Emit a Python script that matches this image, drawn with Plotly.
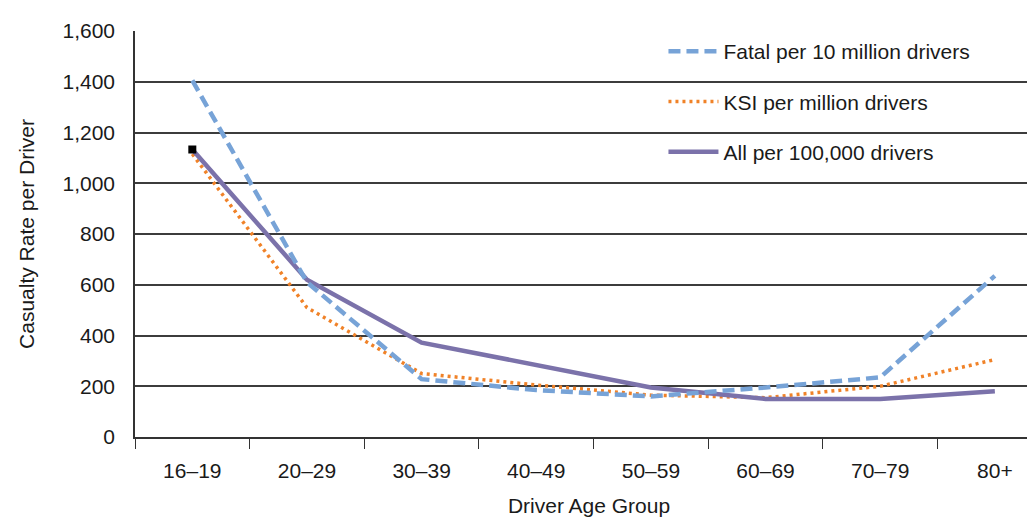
import plotly.graph_objects as go

# Driver age groups and casualty rates
age_groups = ["16–19", "20–29", "30–39", "40–49", "50–59", "60–69", "70–79", "80+"]
fatal_per_10m = [1405, 610, 228, 185, 160, 195, 235, 635]
ksi_per_1m = [1115, 510, 250, 205, 165, 155, 200, 305]
all_per_100k = [1133, 620, 372, 285, 195, 150, 150, 180]

y_ticks = [0, 200, 400, 600, 800, 1000, 1200, 1400, 1600]

FONT = "Liberation Sans, Arial, sans-serif"

fig = go.Figure()

# drawing order: dotted, solid, dashed on top; legend order set by legendrank
fig.add_trace(go.Scatter(
    x=age_groups, y=ksi_per_1m, mode="lines", name="KSI per million drivers",
    line=dict(color="#F08228", width=3.5, dash="3px,4px"),
    legendgroup="b", legendrank=2))
fig.add_trace(go.Scatter(
    x=age_groups, y=all_per_100k, mode="lines", name="All per 100,000 drivers",
    line=dict(color="#7B72AA", width=4.5),
    legendgroup="c", legendrank=3))
fig.add_trace(go.Scatter(
    x=age_groups, y=fatal_per_10m, mode="lines", name="Fatal per 10 million drivers",
    line=dict(color="#77A3D7", width=4.5, dash="12px,6px"),
    legendgroup="a", legendrank=1))
# the small black square sitting on the first point of the solid line
fig.add_trace(go.Scatter(
    x=age_groups[:1], y=all_per_100k[:1], mode="markers", showlegend=False,
    marker=dict(symbol="square", color="black", size=8)))

fig.update_layout(
    width=1035, height=519,
    margin=dict(l=127, r=0, t=23, b=90),
    paper_bgcolor="white", plot_bgcolor="white",
    font=dict(family=FONT, size=21, color="#1a1a1a"),
    showlegend=True,
    legend=dict(
        x=0.582, y=1.0, xanchor="left", yanchor="top",
        bgcolor="rgba(0,0,0,0)", itemwidth=50,
        traceorder="grouped", tracegroupgap=20,
        font=dict(family=FONT, size=21, color="#1a1a1a")),
)

fig.update_xaxes(
    type="category", range=[-0.5, 7.42],
    showgrid=False, showline=True, linecolor="#333333", linewidth=1.5,
    ticks="outside", tickson="boundaries", ticklen=10, tickcolor="#333333",
    ticklabelstandoff=14,
    title=dict(text="Driver Age Group", standoff=17,
               font=dict(family=FONT, size=21)))

fig.update_yaxes(
    range=[0, 1600], tickvals=y_ticks, tickformat=",",
    showgrid=True, gridcolor="#3c3c3c", gridwidth=1.5,
    showline=True, linecolor="#333333", linewidth=1.5,
    zeroline=False, ticks="", ticklabelstandoff=14,
    title=dict(text="Casualty Rate per Driver", standoff=22,
               font=dict(family=FONT, size=21)))

fig.write_html("out.html")
